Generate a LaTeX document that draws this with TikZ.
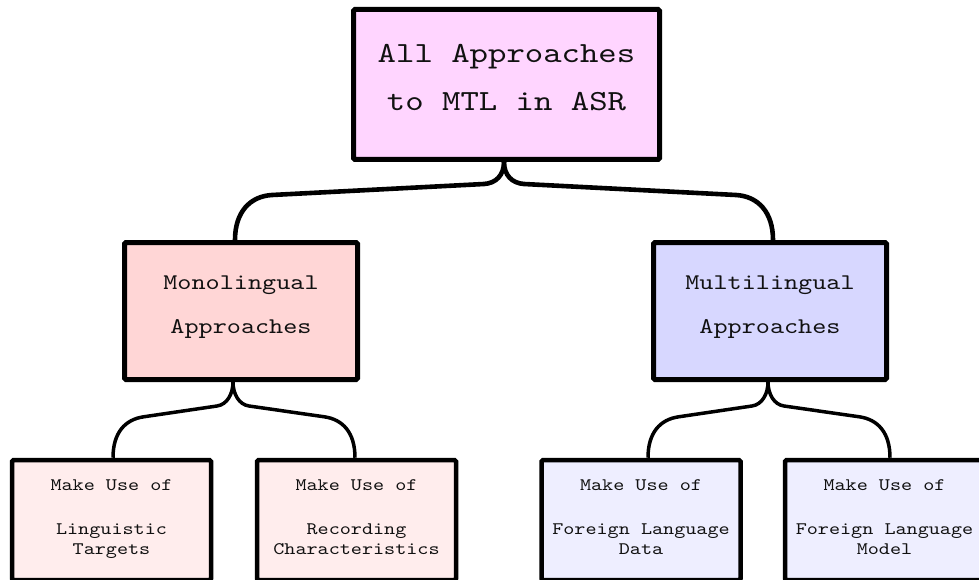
\documentclass[tikz,border=0pt]{standalone}
\usepackage{fontspec}
\setmainfont{lmmono10-regular}[Extension=.otf, FakeStretch=1.2]
\usetikzlibrary{calc}

\definecolor{rootfill}{HTML}{FFD5FF}
\definecolor{monofill}{HTML}{FFD6D6}
\definecolor{multifill}{HTML}{D7D7FF}
\definecolor{monoleaf}{HTML}{FFEDED}
\definecolor{multileaf}{HTML}{EEEEFF}
\definecolor{ink}{HTML}{111111}

\tikzset{
  box/.style={draw=black, rounded corners=1.5pt, align=center, text=ink,
    execute at begin node=\strut, execute at end node=\strut},
  rootbox/.style={box, line width=5pt, fill=rootfill,
    minimum width=306pt, minimum height=150pt,
    font=\fontsize{29.2}{47.7}\selectfont},
  midbox/.style={box, line width=5pt, minimum width=233pt, minimum height=137pt,
    font=\fontsize{22.4}{44.3}\selectfont},
  leafbox/.style={box, line width=4.5pt, minimum width=199pt, minimum height=120pt,
    font=\fontsize{17.6}{19.3}\selectfont},
  link/.style={draw=black, line width=4.6pt},
  sublink/.style={draw=black, line width=3.5pt},
}

\begin{document}
\begin{tikzpicture}[x=1pt, y=-1pt]
  \clip (0,0) rectangle (979,580);
  \fill[white] (0,0) rectangle (979,580);

  % boxes
  \node[rootbox] (root) at (506.5,84.5) {All Approaches\\to MTL in ASR};
  \node[midbox, fill=monofill] (mono) at (241,311) {Monolingual\\Approaches};
  \node[midbox, fill=multifill] (multi) at (770,311) {Multilingual\\Approaches};

  \node[leafbox, fill=monoleaf] (ling) at (111.5,520) {Make Use of\\[24.7pt]Linguistic\\Targets};
  \node[leafbox, fill=monoleaf] (rec) at (356.5,520) {Make Use of\\[24.7pt]Recording\\Characteristics};
  \node[leafbox, fill=multileaf] (fdata) at (641,520) {Make Use of\\[24.7pt]Foreign Language\\Data};
  \node[leafbox, fill=multileaf] (fmodel) at (884.5,520) {Make Use of\\[24.7pt]Foreign Language\\Model};

  % attachment points of the connectors
  \coordinate (rootS) at ([xshift=-2.5pt]root.south);
  \coordinate (monoN) at ([xshift=-6pt]mono.north);
  \coordinate (multiN) at ([xshift=3pt]multi.north);
  \coordinate (monoS) at ([xshift=-8pt]mono.south);
  \coordinate (multiS) at ([xshift=-2pt]multi.south);
  \coordinate (lingN) at ([xshift=1.5pt]ling.north);
  \coordinate (recN) at ([xshift=-1.5pt]rec.north);
  \coordinate (fdataN) at ([xshift=7pt]fdata.north);
  \coordinate (fmodelN) at ([xshift=5.5pt]fmodel.north);

  % brace-shaped connectors, upper level
  \draw[link] (rootS) .. controls +(0,13) and +(12,-0.7) .. ($(rootS)+(-20,22)$)
    -- ($(monoN)+(37,-45)$) .. controls +(-22,1.3) and +(0,-28) .. (monoN);
  \draw[link] (rootS) .. controls +(0,13) and +(-12,-0.7) .. ($(rootS)+(20,22)$)
    -- ($(multiN)+(-37,-45)$) .. controls +(22,1.3) and +(0,-28) .. (multiN);

  % brace-shaped connectors, lower level
  \draw[sublink] (monoS) .. controls +(0,12) and +(10,-1.4) .. ($(monoS)+(-16,24)$)
    -- ($(lingN)+(31,-41)$) .. controls +(-19,2.6) and +(0,-25) .. (lingN);
  \draw[sublink] (monoS) .. controls +(0,12) and +(-10,-1.4) .. ($(monoS)+(16,24)$)
    -- ($(recN)+(-31,-41)$) .. controls +(19,2.6) and +(0,-25) .. (recN);
  \draw[sublink] (multiS) .. controls +(0,12) and +(10,-1.4) .. ($(multiS)+(-16,24)$)
    -- ($(fdataN)+(31,-41)$) .. controls +(-19,2.6) and +(0,-25) .. (fdataN);
  \draw[sublink] (multiS) .. controls +(0,12) and +(-10,-1.4) .. ($(multiS)+(16,24)$)
    -- ($(fmodelN)+(-31,-41)$) .. controls +(19,2.6) and +(0,-25) .. (fmodelN);
\end{tikzpicture}
\end{document}
